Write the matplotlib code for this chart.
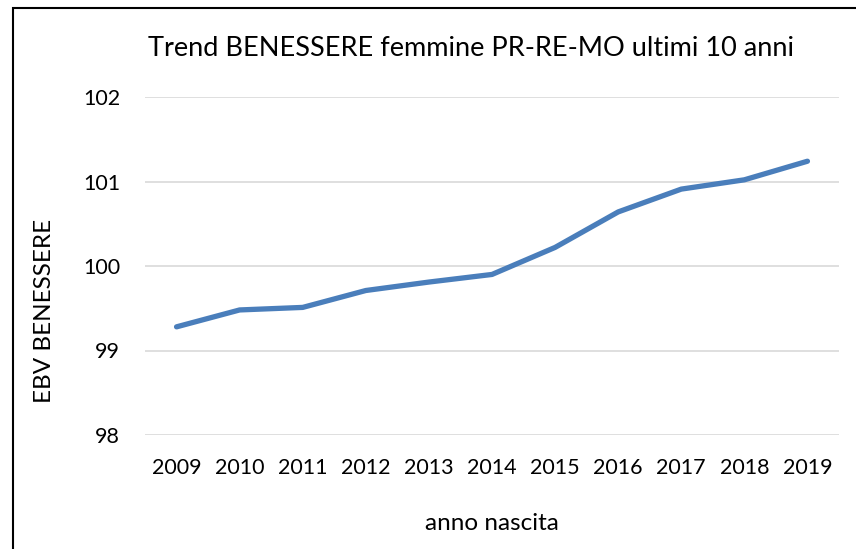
import matplotlib as mpl
mpl.use('Agg')
import matplotlib.pyplot as plt
from matplotlib.patches import Rectangle

plt.rcParams['font.family'] = ['Lato', 'DejaVu Sans']

anni = ['2009', '2010', '2011', '2012', '2013', '2014',
        '2015', '2016', '2017', '2018', '2019']
ebv_benessere = [99.28, 99.48, 99.51, 99.71, 99.81, 99.90,
                 100.22, 100.64, 100.91, 101.02, 101.24]
y_ticks = [98, 99, 100, 101, 102]

W, H = 856, 549
fig = plt.figure(figsize=(W / 100, H / 100), dpi=100)

# cornice del grafico (esce dal bordo a destra e in basso)
fig.patches.append(Rectangle((13 / W, -0.1), 1.2, 1 - 8 / H + 0.1,
                             transform=fig.transFigure, fill=False,
                             edgecolor='black', linewidth=1.5))

ax = fig.add_axes([145 / W, 1 - 435 / H, (839 - 145) / W, (435 - 97) / H])
x = list(range(len(anni)))
ax.plot(x, ebv_benessere, color='#4a7ebb', linewidth=3.8,
        solid_capstyle='round', solid_joinstyle='round', zorder=3)

ax.set_xlim(-0.5, len(anni) - 0.5)
ax.set_ylim(98, 102)
ax.set_yticks(y_ticks)
ax.set_xticks(x)
ax.set_xticklabels(anni)
ax.grid(axis='y', color='#d9d9d9', linewidth=1.2)
ax.set_axisbelow(True)
for s in ax.spines.values():
    s.set_visible(False)
ax.tick_params(length=0, labelsize=15.5, colors='#000000')
ax.tick_params(axis='x', pad=16.5)
ax.tick_params(axis='y', pad=18)

fig.text(471 / W, 1 - 48 / H, 'Trend BENESSERE femmine PR-RE-MO ultimi 10 anni',
         ha='center', va='center', fontsize=19.5)
fig.text(45 / W, 1 - 311 / H, 'EBV BENESSERE', rotation=90,
         ha='center', va='center', fontsize=17.5)
fig.text(492 / W, 1 - 524 / H, 'anno nascita', ha='center', va='center',
         fontsize=17.5)

fig.savefig('out.png', dpi=100)
plt.close(fig)
